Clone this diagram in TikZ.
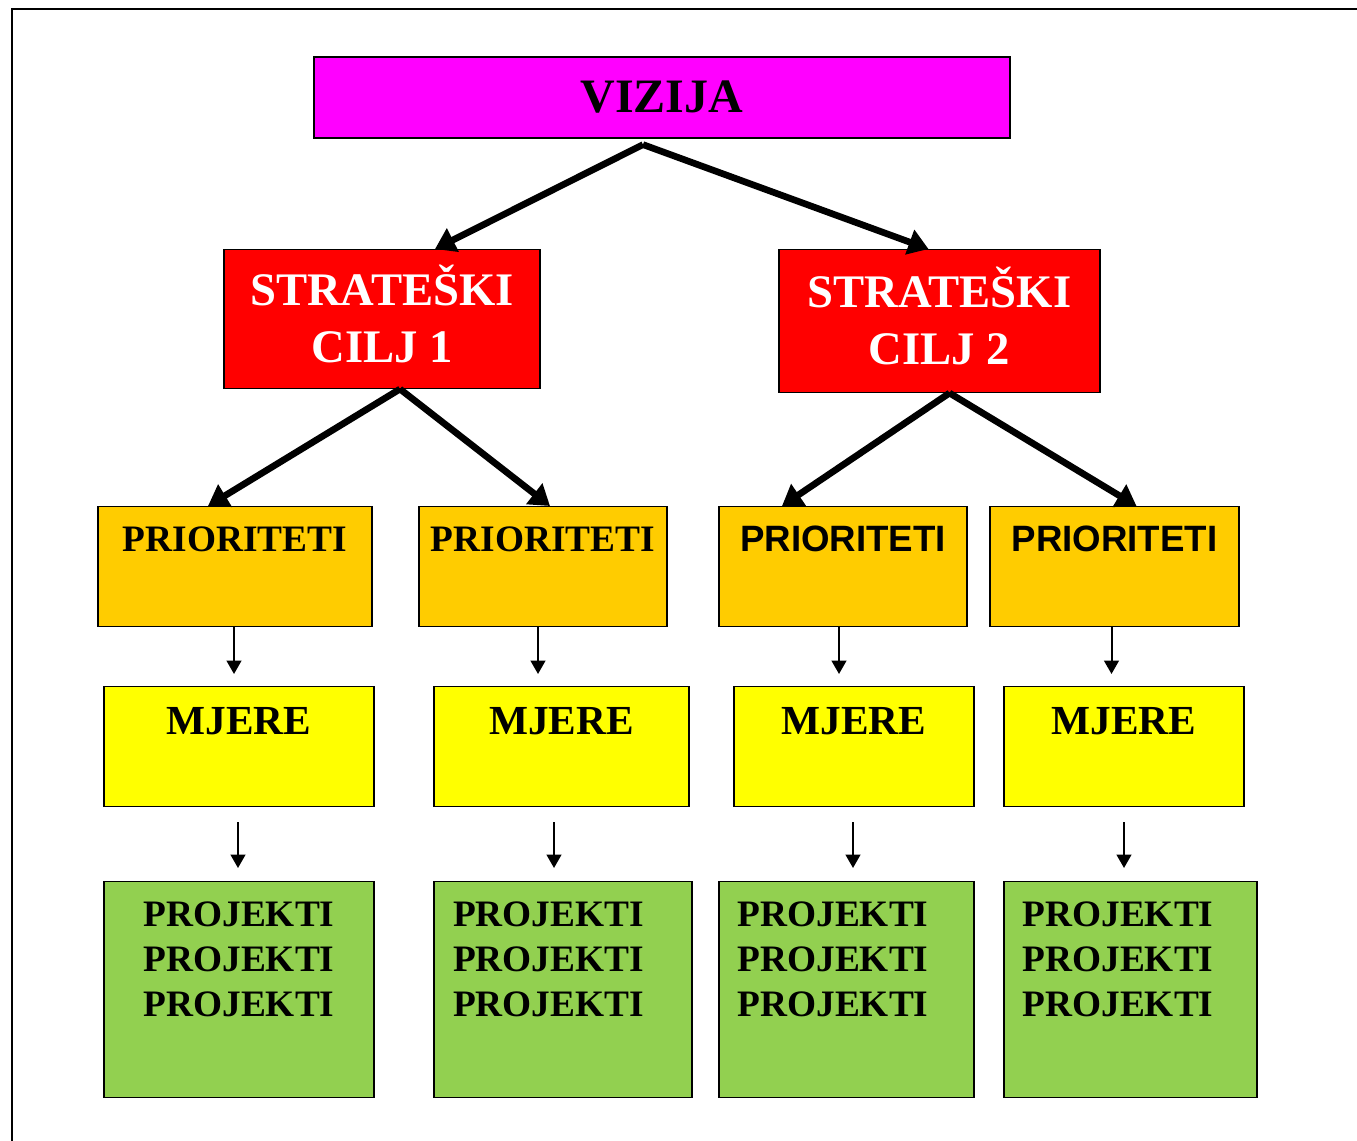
\documentclass[tikz,border=0pt]{standalone}
\usepackage{fontspec}
\setmainfont{Liberation Serif}
\newfontfamily\arialfont{Liberation Sans}
\usetikzlibrary{arrows.meta,calc}
\definecolor{vizcol}{HTML}{FF00FF}
\definecolor{ciljcol}{HTML}{FF0000}
\definecolor{priocol}{HTML}{FFCC00}
\definecolor{mjcol}{HTML}{FFFF00}
\definecolor{projcol}{HTML}{92D050}
\newcommand{\projlist}[1]{\begin{tabular}[t]{@{}c@{}}PROJEKTI\\PROJEKTI\\PROJEKTI\end{tabular}\hspace*{#1}}
\begin{document}
\begin{tikzpicture}[x=0.75pt,y=-0.75pt,
    box/.style={draw=black,line width=0.8pt,inner sep=0pt,anchor=north},
    cilj/.style={box,fill=ciljcol,text=white,align=center,text depth=8pt,font=\fontsize{35}{42.75}\selectfont\bfseries},
    prio/.style={box,fill=priocol,minimum height=120*0.75pt,text height=33.75pt,text depth=56.25pt,font=\fontsize{28}{33.75}\selectfont\bfseries},
    prioarial/.style={prio,font=\arialfont\fontsize{27.5}{33}\selectfont\bfseries},
    mjera/.style={box,fill=mjcol,text height=36pt,text depth=54pt,font=\fontsize{31}{36}\selectfont\bfseries},
    projekt/.style={box,fill=projcol,text height=33.75pt,text depth=128.25pt,font=\fontsize{28}{33.75}\selectfont\bfseries},
    bigarrow/.style={line width=5pt,-{Triangle[width=19pt,length=15pt]}},
    smallarrow/.style={line width=1.5pt,-{Triangle[width=11pt,length=10pt]}}]
  \useasboundingbox (0,0) rectangle (1357,1141);
  \draw[line width=1.3pt] (12,1141) -- (12,9) -- (1357,9);

  % vizija i ciljevi
  \node[box,fill=vizcol,line width=1.2pt,minimum width=696*0.75pt,minimum height=81*0.75pt,
        font=\fontsize{36}{43}\selectfont\bfseries] (viz) at (662,56) {VIZIJA};
  \node[cilj,minimum width=316*0.75pt,minimum height=139*0.75pt] (sc1) at (382,249) {STRATEŠKI\\CILJ 1};
  \node[cilj,minimum width=321*0.75pt,minimum height=143*0.75pt] (sc2) at (939.5,249) {STRATEŠKI\\CILJ 2};

  % prioriteti
  \node[prio,minimum width=274*0.75pt] (p1) at (235,506) {PRIORITETI};
  \node[prio,minimum width=248*0.75pt] (p2) at (543,506) {PRIORITETI};
  \node[prioarial,minimum width=248*0.75pt] (p3) at (843,506) {PRIORITETI};
  \node[prioarial,minimum width=249*0.75pt] (p4) at (1114.5,506) {PRIORITETI};

  % mjere
  \node[mjera,minimum width=270*0.75pt] (m1) at (239,686) {MJERE};
  \node[mjera,minimum width=255*0.75pt] (m2) at (561.5,686) {MJERE};
  \node[mjera,minimum width=240*0.75pt] (m3) at (854,686) {MJERE};
  \node[mjera,minimum width=240*0.75pt] (m4) at (1124,686) {MJERE};

  % projekti
  \node[projekt,minimum width=270*0.75pt] (pr1) at (239,881) {\projlist{0pt}};
  \node[projekt,minimum width=258*0.75pt] (pr2) at (563,881) {\projlist{21.75pt}};
  \node[projekt,minimum width=255*0.75pt] (pr3) at (846.5,881) {\projlist{20.25pt}};
  \node[projekt,minimum width=253*0.75pt] (pr4) at (1130.5,881) {\projlist{18.75pt}};

  % strelice
  \draw[bigarrow] ($(viz.south)+(-19,6)$) -- ($(sc1.north)+(53,0)$);
  \draw[bigarrow] ($(viz.south)+(-19,6)$) -- ($(sc2.north)+(-11,0)$);
  \draw[bigarrow] ($(sc1.south)+(18,0)$) -- ($(p1.north)+(-27,0)$);
  \draw[bigarrow] ($(sc1.south)+(18,0)$) -- ($(p2.north)+(7,0)$);
  \draw[bigarrow] ($(sc2.south)+(10,0)$) -- ($(p3.north)+(-61,0)$);
  \draw[bigarrow] ($(sc2.south)+(10,0)$) -- ($(p4.north)+(22,0)$);

  \foreach \i/\dx in {1/-1,2/-5,3/-4,4/-3}
    \draw[smallarrow] ($(p\i.south)+(\dx,0)$) -- ($(p\i.south |- m\i.north)+(\dx,-12)$);
  \foreach \i/\dx in {1/-1,2/-7.5,3/-1,4/0}
    \draw[smallarrow] ($(m\i.south)+(\dx,15)$) -- ($(m\i.south |- pr\i.north)+(\dx,-13)$);
\end{tikzpicture}
\end{document}
